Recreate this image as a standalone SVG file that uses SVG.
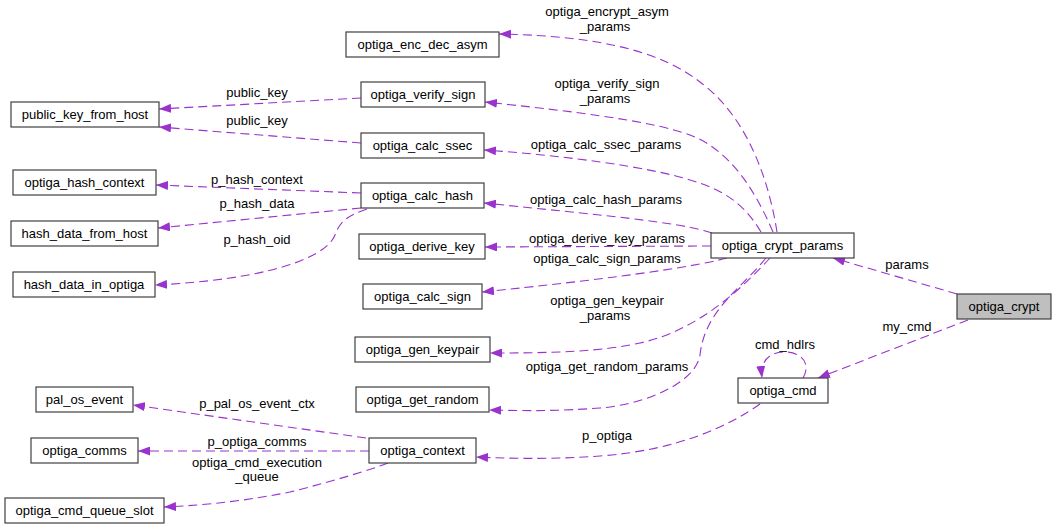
<svg xmlns="http://www.w3.org/2000/svg" width="1056" height="529" viewBox="0 0 1056 529">
<defs>
<style>
.n rect{fill:#ffffff;stroke:#404040;stroke-width:1.2}
.n text,.l{font-family:"Liberation Sans",Arial,sans-serif;font-size:13px;fill:#000;text-anchor:middle}
.e path{fill:none;stroke:#9a32cd;stroke-width:1.1;stroke-dasharray:9,5;marker-end:url(#ah)}
</style>
<marker id="ah" viewBox="0 0 12 9" refX="12" refY="4.5" markerWidth="12" markerHeight="9" markerUnits="userSpaceOnUse" orient="auto">
<path d="M0,0 L12,4.5 L0,9 Z" fill="#9a32cd"/>
</marker>
</defs>
<rect width="1056" height="529" fill="#ffffff"/>
<g id="connectors" class="e">
<path d="M777,232 C768,175 745,115 700,82 C665,55 610,36 499,34"/>
<path d="M773,232 C755,190 730,150 690,135 C650,120 560,110 485,102"/>
<path d="M761,232 C745,205 725,190 690,180 C650,167 560,155 484,150"/>
<path d="M712,233 C680,222 600,215 484,203"/>
<path d="M711,246 L485,247"/>
<path d="M727,258 C690,268 600,280 482,292"/>
<path d="M770,258 C745,285 700,330 640,343 C600,352 550,353 490,353"/>
<path d="M766,258 C740,290 705,310 700,355 C695,385 640,405 600,408 C560,411 530,411 489,410"/>
<path d="M957,294 L833,258"/>
<path d="M968,320 L818,378"/>
<path d="M803,378 C812,362 800,352 785,352 C770,352 760,360 762,378"/>
<path d="M760,404 C730,425 680,450 600,456 C560,459 520,459 476,457"/>
<path d="M361,98 L159,109"/>
<path d="M361,143 L159,127"/>
<path d="M361,193 L156,185"/>
<path d="M361,208 L158,228"/>
<path d="M367,209 C350,215 340,220 335,235 C325,260 260,280 155,285"/>
<path d="M366,438 L133,405"/>
<path d="M369,451 L138,451"/>
<path d="M388,463 C370,470 330,482 290,492 C250,500 210,505 164,507"/>
</g>
<g id="labels">
<text class="l" x="607" y="16">optiga_encrypt_asym</text>
<text class="l" x="605" y="31">_params</text>
<text class="l" x="607" y="88">optiga_verify_sign</text>
<text class="l" x="605" y="103">_params</text>
<text class="l" x="606" y="149">optiga_calc_ssec_params</text>
<text class="l" x="606" y="204">optiga_calc_hash_params</text>
<text class="l" x="607" y="243">optiga_derive_key_params</text>
<text class="l" x="607" y="263">optiga_calc_sign_params</text>
<text class="l" x="607" y="305">optiga_gen_keypair</text>
<text class="l" x="605" y="320">_params</text>
<text class="l" x="607" y="371">optiga_get_random_params</text>
<text class="l" x="607" y="440">p_optiga</text>
<text class="l" x="257" y="97">public_key</text>
<text class="l" x="257" y="125">public_key</text>
<text class="l" x="257" y="184">p_hash_context</text>
<text class="l" x="257" y="208">p_hash_data</text>
<text class="l" x="257" y="244">p_hash_oid</text>
<text class="l" x="257" y="408">p_pal_os_event_ctx</text>
<text class="l" x="257" y="446">p_optiga_comms</text>
<text class="l" x="257" y="467">optiga_cmd_execution</text>
<text class="l" x="257" y="481">_queue</text>
<text class="l" x="907" y="269">params</text>
<text class="l" x="907" y="331">my_cmd</text>
<text class="l" x="785" y="349">cmd_hdlrs</text>
</g>
<g id="optiga_crypt" class="n"><rect x="957" y="294" width="94" height="25" style="fill:#bfbfbf"/><text x="1004" y="311">optiga_crypt</text></g>
<g id="optiga_crypt_params" class="n"><rect x="711" y="233" width="143" height="25"/><text x="782.5" y="250">optiga_crypt_params</text></g>
<g id="optiga_cmd" class="n"><rect x="738" y="378" width="90" height="25"/><text x="783" y="395">optiga_cmd</text></g>
<g id="optiga_enc_dec_asym" class="n"><rect x="346" y="32" width="153" height="25"/><text x="422.5" y="49">optiga_enc_dec_asym</text></g>
<g id="optiga_verify_sign" class="n"><rect x="361" y="82" width="124" height="25"/><text x="423" y="99">optiga_verify_sign</text></g>
<g id="optiga_calc_ssec" class="n"><rect x="361" y="133" width="123" height="25"/><text x="422.5" y="150">optiga_calc_ssec</text></g>
<g id="optiga_calc_hash" class="n"><rect x="361" y="183" width="123" height="25"/><text x="422.5" y="200">optiga_calc_hash</text></g>
<g id="optiga_derive_key" class="n"><rect x="359" y="234" width="126" height="25"/><text x="422" y="251">optiga_derive_key</text></g>
<g id="optiga_calc_sign" class="n"><rect x="363" y="284" width="119" height="25"/><text x="422.5" y="301">optiga_calc_sign</text></g>
<g id="optiga_gen_keypair" class="n"><rect x="355" y="337" width="135" height="25"/><text x="422.5" y="354">optiga_gen_keypair</text></g>
<g id="optiga_get_random" class="n"><rect x="356" y="387" width="133" height="25"/><text x="422.5" y="404">optiga_get_random</text></g>
<g id="optiga_context" class="n"><rect x="369" y="438" width="107" height="25"/><text x="422.5" y="455">optiga_context</text></g>
<g id="public_key_from_host" class="n"><rect x="11" y="102" width="148" height="25"/><text x="85" y="119">public_key_from_host</text></g>
<g id="optiga_hash_context" class="n"><rect x="13" y="170" width="143" height="25"/><text x="84.5" y="187">optiga_hash_context</text></g>
<g id="hash_data_from_host" class="n"><rect x="11" y="221" width="147" height="25"/><text x="84.5" y="238">hash_data_from_host</text></g>
<g id="hash_data_in_optiga" class="n"><rect x="13" y="272" width="142" height="25"/><text x="84" y="289">hash_data_in_optiga</text></g>
<g id="pal_os_event" class="n"><rect x="36" y="387" width="97" height="25"/><text x="84.5" y="404">pal_os_event</text></g>
<g id="optiga_comms" class="n"><rect x="31" y="438" width="107" height="25"/><text x="84.5" y="455">optiga_comms</text></g>
<g id="optiga_cmd_queue_slot" class="n"><rect x="5" y="498" width="159" height="25"/><text x="84.5" y="515">optiga_cmd_queue_slot</text></g>
</svg>
